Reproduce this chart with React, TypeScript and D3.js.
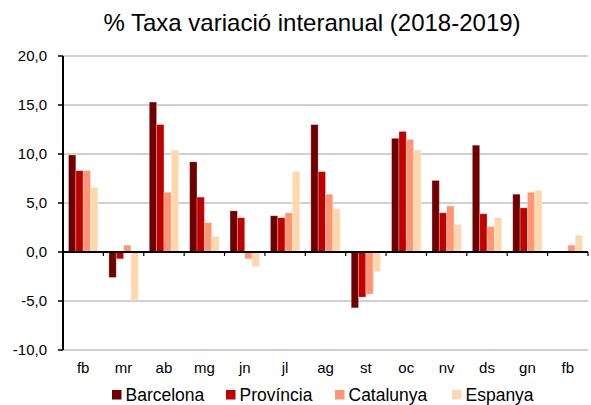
import React from 'react';
import * as d3 from 'd3';

const width = 591;
const height = 405;
const margin = {top: 56, right: 3, bottom: 55, left: 63};

const months = ['fb', 'mr', 'ab', 'mg', 'jn', 'jl', 'ag', 'st', 'oc', 'nv', 'ds', 'gn', 'fb'];
const seriesNames = ['Barcelona', 'Província', 'Catalunya', 'Espanya'];
const colors = ['#6f0000', '#c00000', '#ff9673', '#ffd7ad'];

const barcelona = [9.9, -2.6, 15.3, 9.2, 4.2, 3.7, 13.0, -5.7, 11.6, 7.3, 10.9, 5.9, null];
const provincia = [8.3, -0.7, 13.0, 5.6, 3.5, 3.5, 8.2, -4.6, 12.3, 4.0, 3.9, 4.5, null];
const catalunya = [8.3, 0.7, 6.1, 3.0, -0.7, 4.0, 5.9, -4.3, 11.5, 4.7, 2.6, 6.1, 0.7];
const espanya = [6.6, -4.9, 10.4, 1.6, -1.5, 8.2, 4.4, -2.0, 10.4, 2.8, 3.5, 6.3, 1.7];
const yTicks = [-10, -5, 0, 5, 10, 15, 20];

const series = [barcelona, provincia, catalunya, espanya];
const font = '"Liberation Sans", Arial, sans-serif';
const legendX = [112, 226, 335, 452];

export default function App() {
  const x = d3.scaleBand<number>()
    .domain(months.map((_, i) => i))
    .range([margin.left, width - margin.right]);
  // bars fill 4 of 5.5 slots in each band (excel gap width 150%)
  const x1 = d3.scaleBand<number>()
    .domain(seriesNames.map((_, i) => i))
    .range([0, x.bandwidth()])
    .paddingOuter(0.75)
    .paddingInner(0);
  const y = d3.scaleLinear().domain([-10, 20]).range([height - margin.bottom, margin.top]);
  const fmt = (v: number) => d3.format('.1f')(v).replace('.', ',').replace('−', '-');

  return (
    <svg width={width} height={height} style={{position: 'absolute', left: 0, top: 0}}>
      <rect width={width} height={height} fill="#fff" />
      <text x={312} y={31} textAnchor="middle" fontFamily={font} fontSize={24} fill="#000">
        % Taxa variació interanual (2018-2019)
      </text>
      {yTicks.filter(t => t !== 0).map(t => (
        <line key={t} x1={margin.left} x2={width - margin.right} y1={y(t)} y2={y(t)}
          stroke="#c0c0c0" strokeWidth={1.5} />
      ))}
      {series.map((s, si) => s.map((v, i) => v == null ? null : (
        <rect key={`${si}-${i}`}
          x={(x(i) as number) + (x1(si) as number)}
          y={y(Math.max(0, v))}
          width={x1.bandwidth()}
          height={Math.abs(y(v) - y(0))}
          fill={colors[si]}
          stroke="rgba(255,255,255,0.35)" strokeWidth={0.8} />
      )))}
      {/* y axis */}
      <line x1={margin.left} x2={margin.left} y1={y(20)} y2={y(-10)} stroke="#000" strokeWidth={2} />
      {yTicks.map(t => (
        <g key={t}>
          <line x1={margin.left - 5} x2={margin.left} y1={y(t)} y2={y(t)} stroke="#000" strokeWidth={1.5} />
          <text x={margin.left - 16} y={y(t) + 5} textAnchor="end" fontFamily={font} fontSize={15} fill="#000">
            {fmt(t)}
          </text>
        </g>
      ))}
      {/* zero axis */}
      <line x1={margin.left} x2={width - margin.right} y1={y(0)} y2={y(0)} stroke="#000" strokeWidth={2} />
      {months.map((_, i) => (
        <line key={i} x1={(x(i) as number) + x.bandwidth()} x2={(x(i) as number) + x.bandwidth()}
          y1={y(0)} y2={y(0) + 4} stroke="#000" strokeWidth={1.2} />
      ))}
      {months.map((m, i) => (
        <text key={i} x={(x(i) as number) + x.bandwidth() / 2} y={373} textAnchor="middle"
          fontFamily={font} fontSize={15} fill="#000">{m}</text>
      ))}
      {/* legend */}
      {seriesNames.map((n, i) => (
        <g key={n}>
          <rect x={legendX[i]} y={390} width={9.5} height={9.5} fill={colors[i]} />
          <text x={legendX[i] + 13.5} y={400.5} fontFamily={font} fontSize={17.5} fill="#000">{n}</text>
        </g>
      ))}
    </svg>
  );
}
